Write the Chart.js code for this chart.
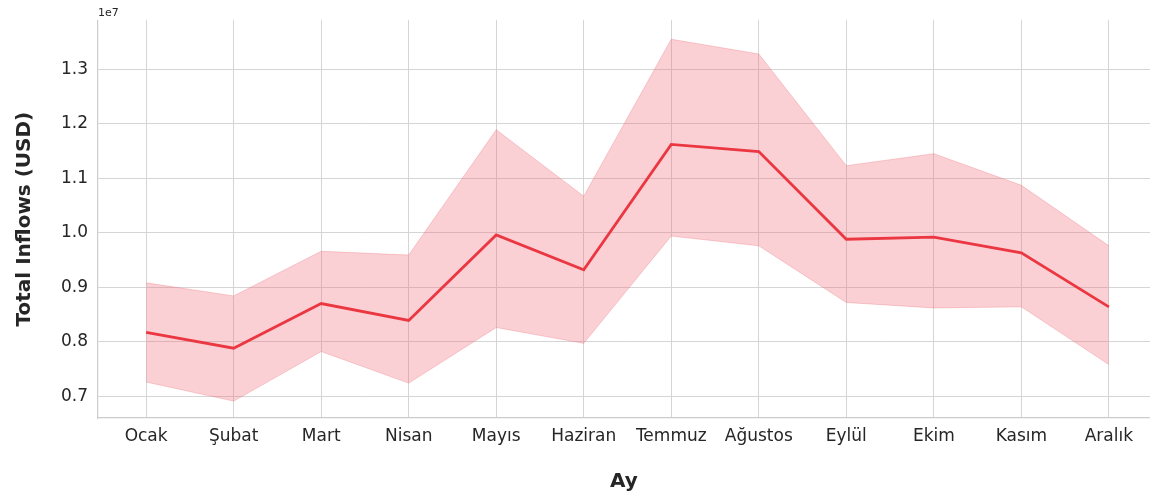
<!DOCTYPE html>
<html>
<head>
<meta charset="utf-8">
<script src="https://cdn.jsdelivr.net/npm/chart.js@4"></script>
<style>
  body { margin: 0; background: #fff; }
  #wrap { width: 1150px; height: 498px; }
</style>
</head>
<body>
<div id="wrap"><canvas id="inflows-chart" width="1150" height="498"></canvas></div>
<script>
// aylar ve değerler
const months = ['Ocak', 'Şubat', 'Mart', 'Nisan', 'Mayıs', 'Haziran', 'Temmuz', 'Ağustos', 'Eylül', 'Ekim', 'Kasım', 'Aralık'];
const meanInflows = [8.17e6, 7.88e6, 8.70e6, 8.39e6, 9.96e6, 9.32e6, 11.62e6, 11.49e6, 9.88e6, 9.92e6, 9.63e6, 8.64e6];
const upperBand = [9.08e6, 8.84e6, 9.66e6, 9.59e6, 11.89e6, 10.67e6, 13.55e6, 13.28e6, 11.23e6, 11.45e6, 10.87e6, 9.76e6];
const lowerBand = [7.26e6, 6.91e6, 7.82e6, 7.24e6, 8.26e6, 7.97e6, 9.94e6, 9.76e6, 8.72e6, 8.62e6, 8.64e6, 7.58e6];
const yTickValues = [7e6, 8e6, 9e6, 10e6, 11e6, 12e6, 13e6];

const toPoints = arr => arr.map((v, i) => ({ x: i, y: v }));

const textColor = '#262626';
const gridColor = '#d5d5d5';

// "1e7" ölçek etiketi
const offsetLabel = {
    id: 'offsetLabel',
    afterDraw(chart) {
        const ctx = chart.ctx;
        ctx.save();
        ctx.font = '11px "DejaVu Sans"';
        ctx.fillStyle = textColor;
        ctx.textAlign = 'left';
        ctx.textBaseline = 'bottom';
        ctx.fillText('1e7', chart.chartArea.left, chart.chartArea.top - 2);
        ctx.restore();
    }
};

const ctx = document.getElementById('inflows-chart').getContext('2d');
new Chart(ctx, {
    type: 'line',
    data: {
        datasets: [
            {
                label: 'upper',
                data: toPoints(upperBand),
                borderColor: 'rgba(235, 120, 130, 0.35)',
                borderWidth: 1,
                backgroundColor: 'rgba(242, 110, 122, 0.32)',
                pointRadius: 0,
                fill: '+1',
                tension: 0
            },
            {
                label: 'lower',
                data: toPoints(lowerBand),
                borderColor: 'rgba(235, 120, 130, 0.35)',
                borderWidth: 1,
                pointRadius: 0,
                fill: false,
                tension: 0
            },
            {
                label: 'Total Inflows',
                data: toPoints(meanInflows),
                borderColor: '#e81e28',
                borderWidth: 2.8,
                pointRadius: 0,
                fill: false,
                tension: 0
            }
        ]
    },
    options: {
        responsive: false,
        animation: false,
        layout: { padding: { top: 18, right: 0, left: 0, bottom: 0 } },
        plugins: {
            legend: { display: false },
            tooltip: { enabled: false }
        },
        scales: {
            x: {
                type: 'linear',
                min: -0.55,
                max: 11.47,
                afterBuildTicks: axis => { axis.ticks = months.map((m, i) => ({ value: i })); },
                afterFit: axis => { axis.height = 80; },
                ticks: {
                    callback: v => months[v],
                    color: textColor,
                    font: { family: 'DejaVu Sans', size: 17 },
                    padding: 8,
                    maxRotation: 0,
                    autoSkip: false
                },
                grid: { color: gridColor, lineWidth: 1, drawTicks: false },
                border: { color: '#cccccc', width: 1.2 },
                title: {
                    display: true,
                    text: 'Ay',
                    color: textColor,
                    font: { family: 'DejaVu Sans', size: 20, weight: 'bold' },
                    padding: { top: 10 }
                }
            },
            y: {
                min: 6.6e6,
                max: 13.9e6,
                afterBuildTicks: axis => { axis.ticks = yTickValues.map(v => ({ value: v })); },
                afterFit: axis => { axis.width = 98; },
                ticks: {
                    callback: v => (v / 1e7).toFixed(1),
                    color: textColor,
                    font: { family: 'DejaVu Sans', size: 17 },
                    padding: 10
                },
                grid: { color: gridColor, lineWidth: 1, drawTicks: false },
                border: { color: '#cccccc', width: 1.2 },
                title: {
                    display: true,
                    text: 'Total Inflows (USD)',
                    color: textColor,
                    font: { family: 'DejaVu Sans', size: 20, weight: 'bold' },
                    padding: { top: 13, bottom: 12 }
                }
            }
        }
    },
    plugins: [offsetLabel]
});
</script>
</body>
</html>
